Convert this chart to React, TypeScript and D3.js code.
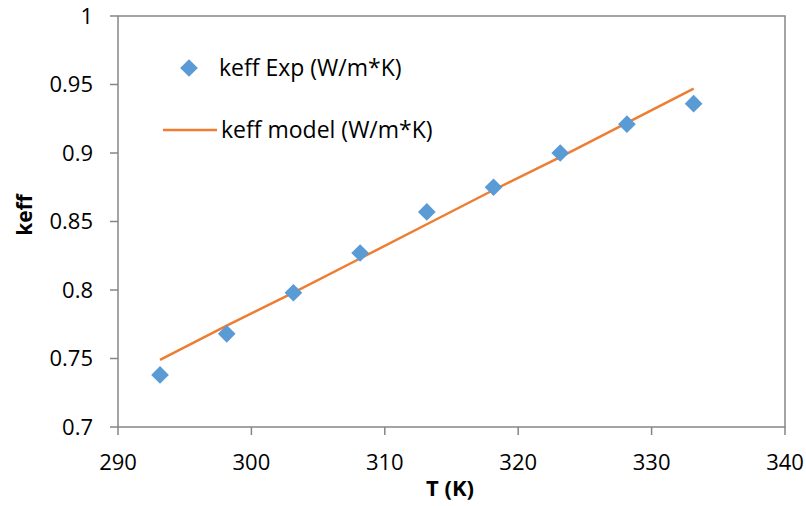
import React from "react";
import * as d3 from "d3";

const temps = [293.15, 298.15, 303.15, 308.15, 313.15, 318.15, 323.15, 328.15, 333.15];
const keffExp = [0.738, 0.768, 0.798, 0.827, 0.857, 0.875, 0.9, 0.921, 0.936];
const keffModel = [0.749, 0.774, 0.798, 0.823, 0.848, 0.873, 0.897, 0.922, 0.947];
const xTicks = [290, 300, 310, 320, 330, 340];
const yTicks = [0.7, 0.75, 0.8, 0.85, 0.9, 0.95, 1];

const W = 806;
const H = 506;
const margin = { top: 16, right: 21, bottom: 79, left: 118 };
const font = "'Open Sans', 'Liberation Sans', sans-serif";

export default function App() {
  const x = d3.scaleLinear().domain([290, 340]).range([margin.left, W - margin.right]);
  const y = d3.scaleLinear().domain([0.7, 1]).range([H - margin.bottom, margin.top]);
  const line = d3
    .line<number>()
    .x((_, i) => x(temps[i]))
    .y((d) => y(d));
  const diamond = d3.symbol().type(d3.symbolDiamond2).size(200)();
  const axisColor = "#868686";
  const bottom = H - margin.bottom;

  return (
    <svg width={W} height={H} style={{ position: "absolute", left: 0, top: 0 }}>
      <rect width={W} height={H} fill="#fff" />
      {/* plot border */}
      <rect
        x={margin.left}
        y={margin.top}
        width={W - margin.left - margin.right}
        height={bottom - margin.top}
        fill="none"
        stroke={axisColor}
        strokeWidth={1.5}
      />
      {yTicks.map((t) => (
        <g key={t}>
          <line x1={margin.left - 8} x2={margin.left} y1={y(t)} y2={y(t)} stroke={axisColor} strokeWidth={1.5} />
          <text x={93} y={y(t)} dy="0.36em" textAnchor="end" fontFamily={font} fontSize={22}>
            {String(t)}
          </text>
        </g>
      ))}
      {xTicks.map((t) => (
        <g key={t}>
          <line x1={x(t)} x2={x(t)} y1={bottom} y2={bottom + 8} stroke={axisColor} strokeWidth={1.5} />
          <text x={x(t)} y={bottom + 43} textAnchor="middle" fontFamily={font} fontSize={22}>
            {t}
          </text>
        </g>
      ))}
      <path d={line(keffModel) ?? ""} fill="none" stroke="#ED7D31" strokeWidth={2.5} />
      {keffExp.map((v, i) => (
        <path key={i} d={diamond ?? ""} transform={`translate(${x(temps[i])},${y(v)})`} fill="#5B9BD5" />
      ))}
      {/* legend */}
      <path d={diamond ?? ""} transform="translate(189,68)" fill="#5B9BD5" />
      <text x={219} y={68} dy="0.36em" fontFamily={font} fontSize={23}>
        keff Exp (W/m*K)
      </text>
      <line x1={163} x2={217} y1={130} y2={130} stroke="#ED7D31" strokeWidth={2.5} />
      <text x={221} y={130} dy="0.36em" fontFamily={font} fontSize={23}>
        keff model (W/m*K)
      </text>
      {/* axis titles */}
      <text x={450} y={496} textAnchor="middle" fontFamily={font} fontSize={22} fontWeight="bold">
        T (K)
      </text>
      <text
        transform="translate(32,215) rotate(-90)"
        textAnchor="middle"
        fontFamily={font}
        fontSize={21}
        fontWeight="bold"
      >
        keff
      </text>
    </svg>
  );
}
